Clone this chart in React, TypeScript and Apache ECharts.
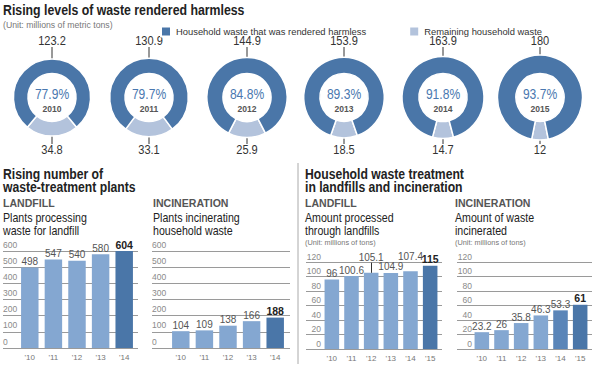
import React, { useEffect, useRef } from 'react';
import * as echarts from 'echarts';

// ---- data ----
const years = ['2010', '2011', '2012', '2013', '2014', '2015'];
const harmless = [123.2, 130.9, 144.9, 153.9, 163.9, 180];
const remaining = [34.8, 33.1, 25.9, 18.5, 14.7, 12];
const harmlessPct = ['77.9%', '79.7%', '84.8%', '89.3%', '91.8%', '93.7%'];

const plantYears = ["'10", "'11", "'12", "'13", "'14"];
const landfillPlants = [498, 547, 540, 580, 604];
const incinerationPlants = [104, 109, 138, 166, 188];

const amountYears = ["'10", "'11", "'12", "'13", "'14", "'15"];
const landfillAmount = [96, 100.6, 105.1, 104.9, 107.4, 115];
const incinerationAmount = [23.2, 26, 35.8, 46.3, 53.3, 61];

const legendNames = ['Household waste that was rendered harmless', 'Remaining household waste'];

// ---- styles ----
const SANS = "'Liberation Sans', Arial, sans-serif";
const DARK = '#4a76a8';
const MID = '#5a85b8';
const LIGHT_BAR = '#84a7d1';
const LIGHT_RING = '#b3c3dc';
const GRID = '#9a9a9a';

const donutCx = [52, 149, 247, 344, 443, 540];
const donutCy = 97.5;
const innerR = 24;
const radiusScale = 3.07;
const TITLE_SX = 0.87;

function txt(x: number, y: number, text: string, s: any = {}) {
  return {
    type: 'text',
    x,
    y,
    scaleX: s.sx ?? 1,
    silent: true,
    style: {
      text,
      fontSize: s.fontSize ?? 11,
      fontFamily: SANS,
      fontWeight: s.fontWeight ?? 'normal',
      fill: s.fill ?? '#222',
      align: s.align ?? 'left',
      verticalAlign: 'middle',
    },
  };
}

function line(x1: number, y1: number, x2: number, y2: number, color = '#333') {
  return { type: 'line', silent: true, shape: { x1, y1, x2, y2 }, style: { stroke: color, lineWidth: 1 } };
}

export default function App() {
  const ref = useRef<HTMLDivElement>(null);
  useEffect(() => {
    if (!ref.current) return;
    const chart = echarts.init(ref.current, undefined, { renderer: 'svg' });

    const grids: any[] = [];
    const xAxes: any[] = [];
    const yAxes: any[] = [];
    const series: any[] = [];
    const graphic: any[] = [];

    // ---- donuts ----
    years.forEach((yr, i) => {
      const total = harmless[i] + remaining[i];
      const R = radiusScale * Math.sqrt(total);
      const lightDeg = (360 * remaining[i]) / total;
      const cx = donutCx[i];
      series.push({
        type: 'pie',
        silent: true,
        center: [cx, donutCy],
        radius: [innerR, R],
        startAngle: 270 + lightDeg / 2,
        clockwise: true,
        label: { show: false },
        labelLine: { show: false },
        emphasis: { disabled: true },
        data: [
          { name: legendNames[1], value: remaining[i], itemStyle: { color: LIGHT_RING, borderColor: '#fff', borderWidth: 1.5 } },
          { name: legendNames[0], value: harmless[i], itemStyle: { color: DARK, borderColor: '#fff', borderWidth: 1.5 } },
        ],
      });
      graphic.push(line(cx, 47, cx, donutCy - R));
      graphic.push(line(cx, donutCy + R, cx, 144));
      graphic.push(txt(cx, 40.5, String(harmless[i]), { fontSize: 13.5, sx: 0.82, align: 'center', fill: '#333' }));
      graphic.push(txt(cx, 150, String(remaining[i]), { fontSize: 13.5, sx: 0.82, align: 'center', fill: '#333' }));
      graphic.push(txt(cx, 93, harmlessPct[i], { fontSize: 15.5, sx: 0.78, align: 'center', fill: '#4a78b0' }));
      graphic.push(txt(cx, 109, yr, { fontSize: 9, fontWeight: 'bold', sx: 0.95, align: 'center', fill: '#555' }));
    });

    // ---- bar charts ----
    const barCharts = [
      { cats: plantYears, vals: landfillPlants, max: 600, step: 100,
        a: { left: 2, width: 136, top: 251, height: 97 }, bLeft: 18, align: 'left', margin: 0, lh: 13 },
      { cats: plantYears, vals: incinerationPlants, max: 600, step: 100,
        a: { left: 152, width: 138, top: 251, height: 97 }, bLeft: 169, align: 'left', margin: 0, lh: 13 },
      { cats: amountYears, vals: landfillAmount, max: 120, step: 20,
        a: { left: 306, width: 136, top: 262, height: 87 }, bLeft: 322, align: 'right', margin: 15, lh: 11, raised: [2, 4] },
      { cats: amountYears, vals: incinerationAmount, max: 120, step: 20,
        a: { left: 457, width: 135, top: 262, height: 87 }, bLeft: 472, align: 'right', margin: 15, lh: 11 },
    ];

    barCharts.forEach((c: any, ci) => {
      const ga = grids.length;
      grids.push({ ...c.a, containLabel: false });
      grids.push({ left: c.bLeft, width: 118, top: c.a.top, height: c.a.height, containLabel: false });
      const gb = ga + 1;
      xAxes.push({ gridIndex: ga, type: 'value', show: false, min: 0, max: 1 });
      yAxes.push({
        gridIndex: ga, type: 'value', min: 0, max: c.max, interval: c.step,
        axisLine: { show: false }, axisTick: { show: false },
        splitLine: { show: true, lineStyle: { color: GRID, width: 1 } },
        axisLabel: {
          inside: true, align: c.align, margin: c.margin, verticalAlign: 'bottom', lineHeight: c.lh,
          fontSize: 8.5, color: '#8a8a8a', fontFamily: SANS,
        },
      });
      xAxes.push({
        gridIndex: gb, type: 'category', data: c.cats,
        axisLine: { show: false }, axisTick: { show: false },
        axisLabel: { fontSize: 8, color: '#777', margin: 5, fontFamily: SANS },
      });
      yAxes.push({ gridIndex: gb, type: 'value', min: 0, max: c.max, show: false, splitLine: { show: false } });
      const n = c.vals.length;
      const raised: number[] = c.raised || [];
      series.push({
        type: 'bar',
        xAxisIndex: ci * 2 + 1,
        yAxisIndex: ci * 2 + 1,
        barWidth: '74%',
        silent: true,
        emphasis: { disabled: true },
        label: { show: true, position: 'top', distance: 1, fontSize: 10, color: '#555', fontFamily: SANS },
        data: c.vals.map((v: number, i: number) => {
          const last = i === n - 1;
          let color = LIGHT_BAR;
          if (last) color = DARK;
          else if (ci === 3 && i === n - 2) color = MID;
          const item: any = { value: v, itemStyle: { color } };
          if (last) item.label = { fontWeight: 'bold', color: '#222', fontSize: 10.5 };
          if (raised.includes(i)) item.label = { offset: [0, -9] };
          return item;
        }),
        markLine: raised.length
          ? {
              silent: true,
              symbol: ['none', 'none'],
              label: { show: false },
              lineStyle: { color: '#333', width: 1, type: 'solid' },
              data: raised.map((i) => [
                { coord: [c.cats[i], c.vals[i]] },
                { coord: [c.cats[i], c.vals[i] + 14] },
              ]),
            }
          : undefined,
      });
    });

    // ---- titles & texts ----
    graphic.push(txt(3, 10, 'Rising levels of waste rendered harmless', { fontSize: 14.5, fontWeight: 'bold', sx: 0.85 }));
    graphic.push(txt(3, 24.5, '(Unit: millions of metric tons)', { fontSize: 8.7, fill: '#777' }));

    graphic.push(txt(3, 174, 'Rising number of', { fontSize: 14, fontWeight: 'bold', sx: TITLE_SX }));
    graphic.push(txt(3, 187, 'waste-treatment plants', { fontSize: 14, fontWeight: 'bold', sx: TITLE_SX }));
    graphic.push(txt(305, 174, 'Household waste treatment', { fontSize: 14, fontWeight: 'bold', sx: TITLE_SX }));
    graphic.push(txt(305, 187, 'in landfills and incineration', { fontSize: 14, fontWeight: 'bold', sx: TITLE_SX }));

    const sub = [
      { x: 3, head: 'LANDFILL', l1: 'Plants processing', l2: 'waste for landfill', unit: false },
      { x: 153, head: 'INCINERATION', l1: 'Plants incinerating', l2: 'household waste', unit: false },
      { x: 305, head: 'LANDFILL', l1: 'Amount processed', l2: 'through landfills', unit: true },
      { x: 455, head: 'INCINERATION', l1: 'Amount of waste', l2: 'incinerated', unit: true },
    ];
    sub.forEach((s) => {
      graphic.push(txt(s.x, 203, s.head, { fontSize: 11.5, fontWeight: 'bold', fill: '#555', sx: 0.92 }));
      graphic.push(txt(s.x, 217, s.l1, { fontSize: 12.5, fill: '#222', sx: 0.85 }));
      graphic.push(txt(s.x, 230, s.l2, { fontSize: 12.5, fill: '#222', sx: 0.85 }));
      if (s.unit) graphic.push(txt(s.x, 242.5, '(Unit: millions of tons)', { fontSize: 8, fill: '#777', sx: 0.92 }));
    });

    graphic.push(line(298, 163, 298, 364, '#aaa'));

    chart.setOption({
      animation: false,
      backgroundColor: '#fff',
      legend: {
        data: legendNames,
        left: 155,
        top: 20.5,
        icon: 'rect',
        itemWidth: 10,
        itemHeight: 10,
        itemGap: 42,
        selectedMode: false,
        textStyle: { fontSize: 9.4, color: '#333', fontFamily: SANS },
      },
      grid: grids,
      xAxis: xAxes,
      yAxis: yAxes,
      series,
      graphic,
    });
    return () => chart.dispose();
  }, []);
  return <div ref={ref} style={{ width: 600, height: 367, position: 'absolute', left: 0, top: 0 }} />;
}
